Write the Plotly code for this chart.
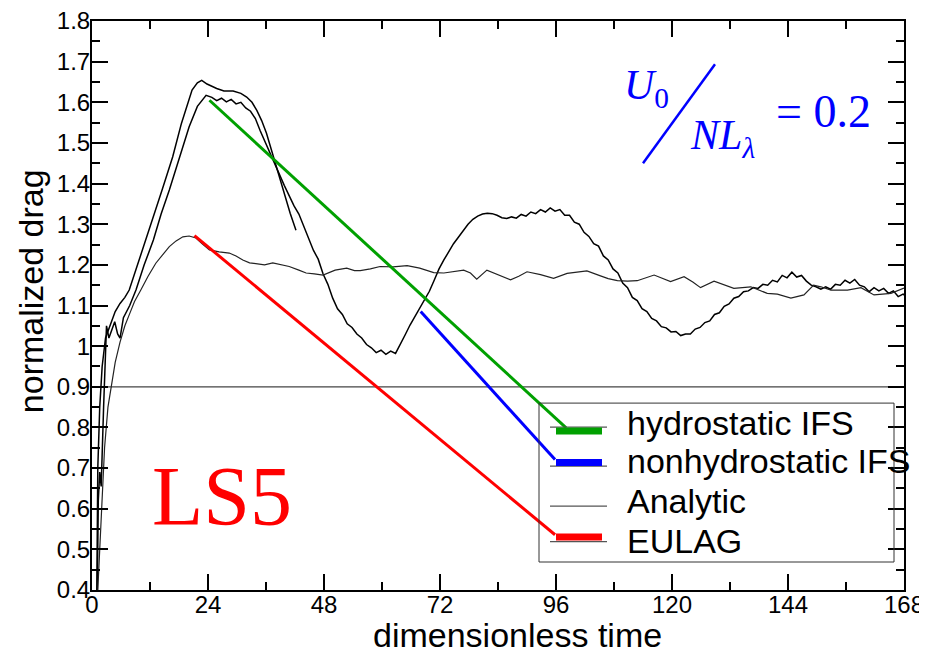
import plotly.graph_objects as go

# ---------------- data ----------------
# Hydrostatic IFS (long curve with small ripples)
hyd_t_early = [1.1, 1.3, 1.6, 1.9, 2.4, 3.0, 3.5, 4.1, 4.7, 5.3, 5.8, 6.5, 7.8, 9.1,
               10.8, 12.7, 14.3, 16.0, 18.2, 20.1, 21.8, 23.6]
hyd_y_early = [0.40, 0.62, 0.69, 0.655, 0.85, 1.05, 1.02, 1.04, 1.06, 1.03, 1.02, 1.07, 1.10, 1.138,
               1.20, 1.261, 1.325, 1.384, 1.466, 1.540, 1.590, 1.617]
hyd_y_late = [
    1.612, 1.604, 1.610, 1.601, 1.607, 1.596, 1.600, 1.586, 1.578, 1.560,
    1.530, 1.502, 1.476, 1.450, 1.422, 1.395, 1.368, 1.345, 1.325, 1.296,
    1.268, 1.236, 1.214, 1.178, 1.152, 1.118, 1.092, 1.078, 1.055, 1.046,
    1.030, 1.020, 1.004, 0.996, 0.984, 0.990, 0.980, 0.988, 0.982, 1.004,
    1.028, 1.052, 1.072, 1.092, 1.112, 1.135, 1.162, 1.190, 1.212, 1.232,
    1.252, 1.268, 1.285, 1.300, 1.312, 1.320, 1.325, 1.327, 1.326, 1.322,
    1.316, 1.314, 1.318, 1.315, 1.324, 1.320, 1.330, 1.326, 1.336, 1.330,
    1.340, 1.332, 1.336, 1.322, 1.322, 1.305, 1.300, 1.280, 1.270, 1.252,
    1.246, 1.222, 1.212, 1.190, 1.180, 1.155, 1.144, 1.120, 1.112, 1.092,
    1.085, 1.068, 1.062, 1.048, 1.045, 1.035, 1.036, 1.026, 1.030, 1.030,
    1.042, 1.046, 1.058, 1.062, 1.078, 1.082, 1.098, 1.104, 1.118, 1.122,
    1.134, 1.136, 1.144, 1.142, 1.152, 1.150, 1.162, 1.158, 1.174, 1.168,
    1.182, 1.170, 1.174, 1.160, 1.150, 1.146, 1.140, 1.146, 1.140, 1.152,
    1.150, 1.162, 1.155, 1.164, 1.150, 1.146, 1.134, 1.144, 1.136, 1.142,
    1.130, 1.136, 1.122, 1.128, 1.120,
]
hyd_t_late = [24.8 + i for i in range(len(hyd_y_late))]  # sampled once per time unit

# Nonhydrostatic IFS (short curve)
nh_t = [1.0, 1.2, 1.6, 2.1, 2.8, 3.8, 4.8, 5.8, 6.8, 7.7, 9.3, 11.2, 12.8, 14.5, 16.7, 18.5,
        20.7, 21.8, 22.7, 23.8, 25.8, 27.3, 29.2, 30.8, 32.0, 33.1, 34.1, 35.1, 36.1, 37.5,
        38.6, 39.6, 41.0, 42.2]
nh_y = [0.40, 0.70, 0.85, 0.95, 1.02, 1.055, 1.085, 1.105, 1.12, 1.138, 1.195, 1.261, 1.32,
        1.384, 1.466, 1.548, 1.63, 1.648, 1.654, 1.645, 1.634, 1.628, 1.628, 1.622, 1.613,
        1.60, 1.58, 1.555, 1.524, 1.466, 1.425, 1.384, 1.327, 1.285]

# EULAG (thin curve)
eu_t = [1.2, 1.8, 2.6, 3.3, 4.0, 4.8, 5.8, 6.8, 7.8, 8.8,
        10.1, 11.6, 13.2, 14.6, 16.0, 17.4, 18.8, 20.1, 21.5, 22.8,
        24.3, 26.3, 28.4, 29.8, 31.2, 32.6, 34.0, 35.7, 37.4, 39.1,
        40.8, 42.8, 44.3, 46.0, 47.8, 50.3, 52.7, 54.3, 55.5, 57.6,
        59.6, 62.3, 65.2, 67.8, 70.7, 72.8, 74.8, 76.9, 78.3, 79.6,
        81.7, 84.1, 86.6, 88.3, 90.0, 92.8, 95.5, 98.3, 102.4, 105.2,
        106.8, 108.7, 110.8, 112.8, 116.3, 119.7, 122.5, 124.3, 125.9, 128.7,
        132.8, 136.3, 139.7, 141.8, 144.6, 147.3, 149.3, 150.8, 152.9, 156.3,
        159.1, 161.8, 165.3, 168.0]
eu_y = [0.40, 0.55, 0.75, 0.85, 0.90, 0.96, 1.01, 1.05, 1.08, 1.11,
        1.138, 1.172, 1.204, 1.226, 1.245, 1.259, 1.269, 1.271, 1.266, 1.252,
        1.237, 1.232, 1.229, 1.222, 1.212, 1.205, 1.202, 1.200, 1.205, 1.200,
        1.196, 1.187, 1.180, 1.178, 1.175, 1.187, 1.192, 1.186, 1.186, 1.190,
        1.196, 1.195, 1.198, 1.192, 1.181, 1.180, 1.184, 1.187, 1.180, 1.165,
        1.187, 1.175, 1.163, 1.172, 1.183, 1.176, 1.167, 1.179, 1.185, 1.173,
        1.166, 1.161, 1.160, 1.161, 1.175, 1.159, 1.171, 1.158, 1.144, 1.160,
        1.142, 1.146, 1.130, 1.128, 1.118, 1.126, 1.150, 1.146, 1.138, 1.138,
        1.144, 1.126, 1.130, 1.143]

# Analytic
an_t = [0, 168]
an_y = [0.9, 0.9]

# pointer lines from legend swatches to curves
ptr_green_t = [24.3, 98.1]
ptr_green_y = [1.605, 0.799]
ptr_blue_t = [68.0, 95.8]
ptr_blue_y = [1.085, 0.721]
ptr_red_t = [21.2, 95.8]
ptr_red_y = [1.272, 0.536]

x_ticks = [0, 24, 48, 72, 96, 120, 144, 168]
y_ticks = [0.4, 0.5, 0.6, 0.7, 0.8, 0.9, 1.0, 1.1, 1.2, 1.3, 1.4, 1.5, 1.6, 1.7, 1.8]
y_tick_text = ["0.4", "0.5", "0.6", "0.7", "0.8", "0.9", "1", "1.1", "1.2", "1.3", "1.4",
               "1.5", "1.6", "1.7", "1.8"]
legend_names = ["hydrostatic IFS", "nonhydrostatic IFS", "Analytic", "EULAG"]

GREEN = "#00a000"
BLUE = "#0000ff"
RED = "#ff0000"
legend_colors = [GREEN, BLUE, None, RED]

# ---------------- figure ----------------
# page body has an 8px margin, so the figure is drawn 8px in from the window corner
OFF = 8
W, H = 927 - OFF, 654 - OFF
SX0, SX1, SY0, SY1 = 92, 904, 20.7, 590  # plot area in window pixels
ML, MR = SX0 - OFF, W - (SX1 - OFF)
MT, MB = SY0 - OFF, H - (SY1 - OFF)


def px(xs):
    return (xs - SX0) / (SX1 - SX0)


def py(ys):
    return (SY1 - ys) / (SY1 - SY0)


fig = go.Figure()

fig.add_trace(go.Scatter(x=hyd_t_early + hyd_t_late, y=hyd_y_early + hyd_y_late, mode="lines",
                         line=dict(color="black", width=1.5), name=legend_names[0],
                         showlegend=False))
fig.add_trace(go.Scatter(x=nh_t, y=nh_y, mode="lines", name=legend_names[1],
                         line=dict(color="black", width=1.5), showlegend=False))
fig.add_trace(go.Scatter(x=an_t, y=an_y, mode="lines", name=legend_names[2],
                         line=dict(color="#444444", width=1.3), showlegend=False))
fig.add_trace(go.Scatter(x=eu_t, y=eu_y, mode="lines", name=legend_names[3],
                         line=dict(color="#222222", width=1.2), showlegend=False))

# pointer lines
for tt, yy, c in [(ptr_green_t, ptr_green_y, GREEN), (ptr_blue_t, ptr_blue_y, BLUE),
                  (ptr_red_t, ptr_red_y, RED)]:
    fig.add_trace(go.Scatter(x=tt, y=yy, mode="lines", line=dict(color=c, width=3),
                             showlegend=False, hoverinfo="skip"))

axis_common = dict(showgrid=False, zeroline=False, showline=True, linecolor="black",
                   linewidth=2, mirror="ticks", ticks="inside", ticklen=16, tickwidth=1.5,
                   tickcolor="black", automargin=False, tickmode="array",
                   ticklabeloverflow="allow",
                   tickfont=dict(family="Liberation Sans, Arial", size=24, color="black"))

fig.update_layout(
    width=W, height=H,
    margin=dict(l=ML, r=MR, t=MT, b=MB),
    paper_bgcolor="white", plot_bgcolor="white",
    font=dict(family="Liberation Sans, Arial", color="black"),
    showlegend=False,
    xaxis=dict(range=[0, 168], tickvals=x_ticks, ticklabelstandoff=-8,
               minor=dict(dtick=12, tick0=0, ticks="inside", ticklen=8, tickcolor="black",
                          tickwidth=1.5),
               **axis_common),
    yaxis=dict(range=[0.4, 1.8], tickvals=y_ticks, ticktext=y_tick_text,
               ticklabelstandoff=-5,
               minor=dict(dtick=0.05, tick0=0.4, ticks="inside", ticklen=8, tickcolor="black",
                          tickwidth=1.5),
               **axis_common),
)

# axis titles (placed as in the original)
fig.add_annotation(x=px(517), y=py(635), xref="paper", yref="paper",
                   text="dimensionless time", showarrow=False,
                   xanchor="center", yanchor="middle",
                   font=dict(family="Liberation Sans, Arial", size=34, color="black"))
fig.add_annotation(x=px(31), y=py(291), xref="paper", yref="paper",
                   text="normalized drag", showarrow=False, textangle=-90,
                   xanchor="center", yanchor="middle",
                   font=dict(family="Liberation Sans, Arial", size=34, color="black"))

# ---- hand-drawn legend box (as in the original) ----
fig.add_shape(type="rect", xref="paper", yref="paper", x0=px(539), y0=py(562), x1=px(894),
              y1=py(403), line=dict(color="#333333", width=1), fillcolor="rgba(0,0,0,0)")
row_text_y = [423, 461, 501, 541]
row_thin_y = [427, 466, 506, 541.5]
row_swatch_y = [431, 462.5, None, 537]
for name, col, ty, thy, sy in zip(legend_names, legend_colors, row_text_y, row_thin_y,
                                  row_swatch_y):
    fig.add_shape(type="line", xref="paper", yref="paper", x0=px(550), x1=px(607),
                  y0=py(thy), y1=py(thy), line=dict(color="#555555", width=1.3))
    if col is not None:
        fig.add_shape(type="line", xref="paper", yref="paper", x0=px(556), x1=px(602),
                      y0=py(sy), y1=py(sy), line=dict(color=col, width=7))
    fig.add_annotation(x=px(625), y=py(ty), xref="paper", yref="paper", text=name,
                       showarrow=False, xanchor="left", yanchor="middle",
                       font=dict(family="Liberation Sans, Arial", size=34, color="black"))

serif = "Liberation Serif, Times New Roman, serif"
fig.add_annotation(x=px(221.5), y=py(496), xref="paper", yref="paper", text="LS5",
                   showarrow=False, font=dict(family=serif, size=84, color=RED),
                   xanchor="center", yanchor="middle")
fig.add_annotation(x=px(646), y=py(88), xref="paper", yref="paper",
                   text="<i>U</i><sub>0</sub>", showarrow=False,
                   font=dict(family=serif, size=42, color=BLUE),
                   xanchor="center", yanchor="middle")
fig.add_annotation(x=px(722), y=py(138), xref="paper", yref="paper",
                   text="<i>NL</i><sub><i>λ</i></sub>", showarrow=False,
                   font=dict(family=serif, size=42, color=BLUE),
                   xanchor="center", yanchor="middle")
fig.add_annotation(x=px(823), y=py(111), xref="paper", yref="paper",
                   text="= 0.2", showarrow=False,
                   font=dict(family=serif, size=46, color=BLUE),
                   xanchor="center", yanchor="middle")
fig.add_shape(type="line", xref="paper", yref="paper", x0=px(643), y0=py(163),
              x1=px(715), y1=py(64), line=dict(color=BLUE, width=2.5))

fig.write_html("out.html")
